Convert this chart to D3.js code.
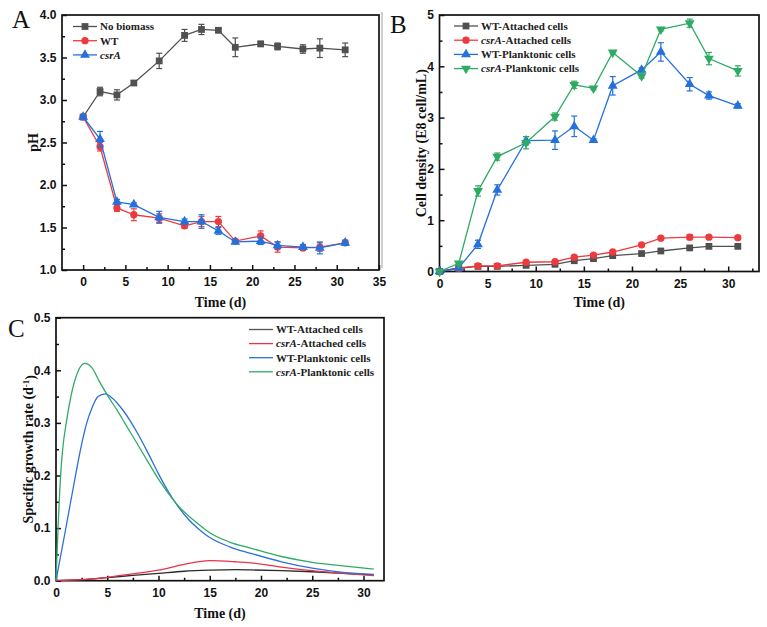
<!DOCTYPE html>
<html>
<head>
<meta charset="utf-8">
<script src="https://cdn.jsdelivr.net/npm/d3@7/dist/d3.min.js"></script>
<style>
  body { margin: 0; background: #fff; }
  svg { display: block; font-family: 'Liberation Serif', 'Times New Roman', serif; }
  .tick text { font-weight: bold; font-size: 12px; fill: #111; }
  .title { font-weight: bold; font-size: 14px; fill: #111; }
  .legend text { font-weight: bold; font-size: 11px; fill: #222; }
</style>
</head>
<body>
<div id="chart"></div>
<script>
// ---- data ----
const days = [0, 2, 4, 6, 9, 12, 14, 16, 18, 21, 23, 26, 28, 31];

// panel A: pH
const phNoBiomass = [2.80, 3.10, 3.06, 3.20, 3.46, 3.76, 3.83, 3.82, 3.62, 3.66, 3.63, 3.60, 3.61, 3.59];
const phNoBiomassErr = [0.02, 0.05, 0.06, 0.02, 0.09, 0.07, 0.06, 0.02, 0.11, 0.03, 0.04, 0.05, 0.11, 0.08];
const phWT = [2.80, 2.45, 1.73, 1.65, 1.61, 1.52, 1.57, 1.57, 1.34, 1.40, 1.27, 1.26, 1.27, 1.32];
const phWTErr = [0.02, 0.05, 0.04, 0.07, 0.05, 0.03, 0.06, 0.06, 0.02, 0.06, 0.06, 0.03, 0.05, 0.03];
const phCsrA = [2.80, 2.54, 1.80, 1.77, 1.62, 1.57, 1.57, 1.46, 1.33, 1.34, 1.29, 1.27, 1.26, 1.32];
const phCsrAErr = [0.02, 0.09, 0.03, 0.02, 0.07, 0.03, 0.08, 0.04, 0.02, 0.04, 0.04, 0.03, 0.07, 0.03];

// panel B: cell density (E8 cell/mL)
const wtAttached = [0, 0.06, 0.10, 0.10, 0.12, 0.14, 0.21, 0.25, 0.31, 0.35, 0.40, 0.46, 0.49, 0.49];
const wtAttachedErr = [0, 0.01, 0.02, 0.01, 0.01, 0.01, 0.02, 0.02, 0.01, 0.02, 0.02, 0.03, 0.02, 0.02];
const csrAAttached = [0, 0.07, 0.11, 0.11, 0.18, 0.19, 0.28, 0.32, 0.38, 0.52, 0.65, 0.67, 0.67, 0.66];
const csrAAttachedErr = [0, 0.01, 0.02, 0.02, 0.02, 0.02, 0.03, 0.03, 0.02, 0.03, 0.03, 0.05, 0.03, 0.03];
const wtPlanktonic = [0, 0.07, 0.53, 1.59, 2.55, 2.56, 2.83, 2.56, 3.62, 3.93, 4.28, 3.65, 3.43, 3.23];
const wtPlanktonicErr = [0, 0.02, 0.08, 0.10, 0.08, 0.18, 0.20, 0.03, 0.18, 0.04, 0.18, 0.13, 0.07, 0.04];
const csrAPlanktonic = [0, 0.16, 1.57, 2.24, 2.51, 3.02, 3.64, 3.57, 4.27, 3.81, 4.72, 4.84, 4.15, 3.91];
const csrAPlanktonicErr = [0, 0.03, 0.10, 0.07, 0.12, 0.07, 0.07, 0.03, 0.03, 0.04, 0.03, 0.08, 0.12, 0.10];

// panel C: specific growth rate (d-1)
const tWTAtt = [0, 2.5, 5, 7.5, 10, 12.5, 15, 17.5, 19, 22, 25, 28, 31];
const muWTAtt = [0, 0.002, 0.006, 0.010, 0.014, 0.018, 0.020, 0.021, 0.0205, 0.019, 0.017, 0.014, 0.011];
const tCsrAAtt = [0, 2.5, 5, 7.5, 10, 12.5, 15, 17.5, 19, 22, 25, 28, 31];
const muCsrAAtt = [0, 0.002, 0.0065, 0.013, 0.020, 0.031, 0.038, 0.036, 0.034, 0.026, 0.019, 0.014, 0.0095];
const tWTPlank = [0, 1, 2, 2.4, 3, 3.5, 4.1, 4.8, 5.5, 6.5, 7.3, 8, 9, 10, 11, 11.8, 13, 14, 15, 17, 19, 22, 25, 28, 31];
const muWTPlank = [0, 0.104, 0.21, 0.25, 0.30, 0.328, 0.35, 0.355, 0.347, 0.325, 0.302, 0.279, 0.242, 0.203, 0.168, 0.144, 0.115, 0.097, 0.082, 0.064, 0.052, 0.036, 0.024, 0.016, 0.012];
const tCsrAPlank = [0, 0.2, 0.45, 0.65, 1, 1.45, 2.2, 2.8, 3.5, 4.2, 5.1, 6, 6.7, 8, 9, 10, 11, 11.8, 13, 14, 15, 17, 19, 22, 25, 28, 31];
const muCsrAPlank = [0, 0.10, 0.20, 0.25, 0.30, 0.35, 0.40, 0.413, 0.405, 0.38, 0.35, 0.323, 0.30, 0.258, 0.225, 0.193, 0.165, 0.145, 0.122, 0.106, 0.091, 0.073, 0.062, 0.046, 0.035, 0.028, 0.022];

const gray = '#505050', red = '#ee3a3f', blue = '#2470dc', green = '#2eaa62';

const svg = d3.select('#chart').append('svg').attr('width', 767).attr('height', 627);

// builds a framed plot with inward major + minor ticks
function panel(o) {
  const x = d3.scaleLinear().domain(o.xDomain).range([o.left, o.right]);
  const y = d3.scaleLinear().domain(o.yDomain).range([o.bottom, o.top]);
  const g = svg.append('g');

  g.append('g').attr('transform', `translate(0,${o.bottom})`)
    .call(d3.axisBottom(x).tickValues(o.xMinor).tickSize(-3).tickFormat(''));
  g.append('g').attr('transform', `translate(0,${o.bottom})`)
    .call(d3.axisBottom(x).tickValues(o.xMajor).tickSize(-5).tickPadding(7.5).tickFormat(d3.format('d')));
  g.append('g').attr('transform', `translate(${o.left},0)`)
    .call(d3.axisLeft(y).tickValues(o.yMinor).tickSize(-3).tickFormat(''));
  g.append('g').attr('transform', `translate(${o.left},0)`)
    .call(d3.axisLeft(y).tickValues(o.yMajor).tickSize(-5).tickPadding(5.5).tickFormat(o.yFmt));
  g.selectAll('.domain').remove();
  g.selectAll('.tick line').attr('stroke', '#111').attr('stroke-width', 1.5);

  g.append('rect')
    .attr('x', o.left).attr('y', o.top)
    .attr('width', o.right - o.left).attr('height', o.bottom - o.top)
    .attr('fill', 'none').attr('stroke', '#111').attr('stroke-width', 1.7);

  g.append('text').attr('class', 'title')
    .attr('x', (o.left + o.right) / 2).attr('y', o.xTitleY)
    .attr('text-anchor', 'middle').text(o.xTitle);
  const yt = g.append('text').attr('class', 'title')
    .attr('transform', `translate(${o.yTitleX},${(o.top + o.bottom) / 2}) rotate(-90)`)
    .attr('text-anchor', 'middle').attr('dy', '0.35em');
  o.yTitle(yt);

  svg.append('text').attr('x', o.letter[0]).attr('y', o.letter[1])
    .style('font-size', '25px').style('fill', '#111').text(o.letterText);
  return { x, y, g };
}

const symSquare = d3.symbol().type(d3.symbolSquare).size(46)();
const symCircle = d3.symbol().type(d3.symbolCircle).size(42)();
const symTri = d3.symbol().type(d3.symbolTriangle).size(42)();

function series(p, xs, vals, errs, color, sym, flip) {
  const pts = xs.map((d, i) => ({ t: d, v: vals[i], e: errs[i] }));
  p.g.append('path').datum(pts)
    .attr('fill', 'none').attr('stroke', color).attr('stroke-width', 1.3)
    .attr('d', d3.line().x(d => p.x(d.t)).y(d => p.y(d.v)));
  const eb = p.g.append('g').attr('stroke', color).attr('stroke-width', 1.2);
  pts.filter(d => d.e > 0).forEach(d => {
    const cx = p.x(d.t), y1 = p.y(d.v - d.e), y2 = p.y(d.v + d.e);
    eb.append('line').attr('x1', cx).attr('x2', cx).attr('y1', y1).attr('y2', y2);
    eb.append('line').attr('x1', cx - 3).attr('x2', cx + 3).attr('y1', y1).attr('y2', y1);
    eb.append('line').attr('x1', cx - 3).attr('x2', cx + 3).attr('y1', y2).attr('y2', y2);
  });
  p.g.append('g').selectAll('path').data(pts).join('path')
    .attr('d', sym).attr('fill', color)
    .attr('transform', d => `translate(${p.x(d.t)},${p.y(d.v)})${flip ? ' rotate(180)' : ''}`);
}

function legend(x0, y0, dy, items, withMarker) {
  const lg = svg.append('g').attr('class', 'legend');
  items.forEach((it, i) => {
    const yy = y0 + i * dy;
    lg.append('line').attr('x1', x0).attr('x2', x0 + 24).attr('y1', yy).attr('y2', yy)
      .attr('stroke', it.color).attr('stroke-width', 1.3);
    if (withMarker) {
      lg.append('path').attr('d', it.sym).attr('fill', it.color)
        .attr('transform', `translate(${x0 + 12},${yy})${it.flip ? ' rotate(180)' : ''}`);
    }
    const t = lg.append('text').attr('x', x0 + 27).attr('y', yy).attr('dy', '0.35em');
    if (it.italic) t.append('tspan').style('font-style', 'italic').text(it.italic);
    t.append('tspan').text(it.label);
  });
}

// ---- panel A ----
const pA = panel({
  left: 62, right: 379, top: 15, bottom: 270,
  xDomain: [-2.5, 35], yDomain: [1, 4],
  xMajor: d3.range(0, 36, 5), xMinor: d3.range(2.5, 35, 5),
  yMajor: d3.range(1, 4.01, 0.5), yMinor: d3.range(1.25, 4, 0.5), yFmt: d3.format('.1f'),
  xTitle: 'Time (d)', xTitleY: 307, yTitleX: 33,
  yTitle: t => t.text('pH'),
  letter: [12, 28], letterText: 'A'
});
series(pA, days, phNoBiomass, phNoBiomassErr, gray, symSquare);
series(pA, days, phWT, phWTErr, red, symCircle);
series(pA, days, phCsrA, phCsrAErr, blue, symTri);
legend(73, 26.5, 14.2, [
  { color: gray, sym: symSquare, label: 'No biomass' },
  { color: red, sym: symCircle, label: 'WT' },
  { color: blue, sym: symTri, italic: 'csrA', label: '' }
], true);

// light border left of panel B
svg.append('line').attr('x1', 382).attr('x2', 382).attr('y1', 12).attr('y2', 268)
  .attr('stroke', '#cfcfcf').attr('stroke-width', 2);

// ---- panel B ----
const pB = panel({
  left: 439.5, right: 759, top: 15, bottom: 271.5,
  xDomain: [0, 33.2], yDomain: [0, 5],
  xMajor: d3.range(0, 31, 5), xMinor: d3.range(2.5, 33, 5),
  yMajor: d3.range(0, 6, 1), yMinor: d3.range(0.5, 5, 1), yFmt: d3.format('d'),
  xTitle: 'Time (d)', xTitleY: 307, yTitleX: 421,
  yTitle: t => t.text('Cell density (E8 cell/mL)'),
  letter: [390, 33], letterText: 'B'
});
series(pB, days, wtAttached, wtAttachedErr, gray, symSquare);
series(pB, days, csrAAttached, csrAAttachedErr, red, symCircle);
series(pB, days, wtPlanktonic, wtPlanktonicErr, blue, symTri);
series(pB, days, csrAPlanktonic, csrAPlanktonicErr, green, symTri, true);
legend(454, 26, 14.2, [
  { color: gray, sym: symSquare, label: 'WT-Attached cells' },
  { color: red, sym: symCircle, italic: 'csrA', label: '-Attached cells' },
  { color: blue, sym: symTri, label: 'WT-Planktonic cells' },
  { color: green, sym: symTri, flip: true, italic: 'csrA', label: '-Planktonic cells' }
], true);

// ---- panel C ----
const pC = panel({
  left: 56, right: 384, top: 317.7, bottom: 580.7,
  xDomain: [0, 32], yDomain: [0, 0.5],
  xMajor: d3.range(0, 31, 5), xMinor: d3.range(2.5, 32, 5),
  yMajor: d3.range(0, 0.51, 0.1), yMinor: d3.range(0.05, 0.5, 0.1), yFmt: d3.format('.1f'),
  xTitle: 'Time (d)', xTitleY: 618, yTitleX: 28,
  yTitle: t => {
    t.append('tspan').text('Specific growth rate (d');
    t.append('tspan').attr('dy', '-0.45em').style('font-size', '9px').text('-1');
    t.append('tspan').attr('dy', '0.45em').text(')');
  },
  letter: [8, 337], letterText: 'C'
});
const curve = d3.line().curve(d3.curveMonotoneX);
[
  [tWTAtt, muWTAtt, '#2a2a2a'],
  [tCsrAAtt, muCsrAAtt, '#e8334a'],
  [tWTPlank, muWTPlank, '#2c6fd8'],
  [tCsrAPlank, muCsrAPlank, '#2eab66']
].forEach(([ts, vs, c]) => {
  pC.g.append('path')
    .attr('fill', 'none').attr('stroke', c).attr('stroke-width', 1.3)
    .attr('d', curve.x((d, i) => pC.x(ts[i])).y(d => pC.y(d))(vs));
});
legend(249, 329.5, 14.1, [
  { color: '#555', label: 'WT-Attached cells' },
  { color: '#e8334a', italic: 'csrA', label: '-Attached cells' },
  { color: '#2c6fd8', label: 'WT-Planktonic cells' },
  { color: '#2eab66', italic: 'csrA', label: '-Planktonic cells' }
], false);
</script>
</body>
</html>
